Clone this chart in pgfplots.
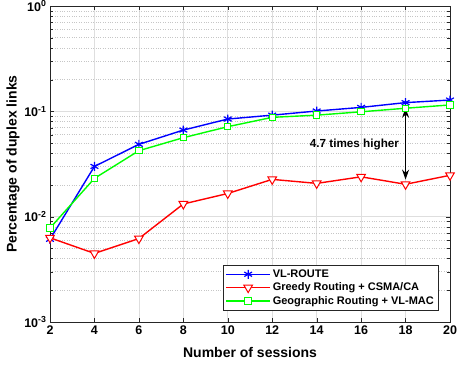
\documentclass[border=0pt]{standalone}
\usepackage{fontspec}
\setmainfont{Liberation Sans}[BoldFont={Liberation Sans Bold}]
\usepackage{pgfplots}
\usetikzlibrary{arrows.meta}
\pgfplotsset{compat=1.18}
\definecolor{axgray}{RGB}{38,38,38}
\definecolor{gridgray}{RGB}{222,222,222}
\begin{document}
\begin{tikzpicture}
\begin{axis}[
  scale only axis,
  width=400pt, height=316pt,
  ymode=log,
  xmin=2, xmax=20, ymin=1e-3, ymax=1,
  xtick={2,4,...,20},
  ytick={0.001,0.01,0.1,1},
  yticklabels={10\textsuperscript{-3},10\textsuperscript{-2},10\textsuperscript{-1},10\textsuperscript{0}},
  tick align=inside,
  tick pos=both,
  axis line style={axgray, line width=0.6pt},
  tick style={axgray},
  major grid style={gridgray, line width=0.6pt},
  minor grid style={gray!45, dotted, line width=0.5pt},
  xmajorgrids, ymajorgrids, yminorgrids,
  ticklabel style={font=\bfseries\fontsize{12.5}{14}\selectfont, text=black},
  /pgf/number format/assume math mode=true,
  xlabel={\bfseries Number of sessions},
  ylabel={\bfseries Percentage of duplex links},
  label style={font=\bfseries\fontsize{14}{16}\selectfont},
  xlabel style={at={(axis description cs:0.5,-0.095)}, anchor=center},
  ylabel style={at={(axis description cs:-0.0925,0.5)}, anchor=center},
  legend style={at={(0.97,0.038)}, anchor=south east, font=\bfseries\fontsize{11}{13}\selectfont, draw=axgray, row sep=0pt, inner sep=2pt},
  legend cell align=left,
  legend image code/.code={\draw[mark repeat=2,mark phase=2] plot coordinates {(0cm,0cm)(0.77cm,0cm)(1.54cm,0cm)};},
]
\addplot[blue, line width=1.4pt, mark=asterisk, mark size=4.5pt, mark options={line width=1.2pt}] coordinates {
(2,0.0061)(4,0.030)(6,0.0486)(8,0.0664)(10,0.0845)(12,0.092)(14,0.1007)(16,0.109)(18,0.121)(20,0.128)};
\addlegendentry{VL-ROUTE}
\addplot[red, line width=1.4pt, mark=triangle*, mark size=5pt, mark options={rotate=180, line width=1pt, fill=white, draw=red}] coordinates {
(2,0.0063)(4,0.00448)(6,0.0062)(8,0.0132)(10,0.0166)(12,0.0226)(14,0.0207)(16,0.0239)(18,0.0203)(20,0.0247)};
\addlegendentry{Greedy Routing + CSMA/CA}
\addplot[green, line width=1.4pt, mark=square*, mark size=3.2pt, mark options={line width=1pt, fill=white, draw=green}] coordinates {
(2,0.0078)(4,0.0231)(6,0.0423)(8,0.0562)(10,0.0715)(12,0.0877)(14,0.092)(16,0.099)(18,0.107)(20,0.115)};
\addlegendentry{Geographic Routing + VL-MAC}
\draw[black, line width=1.1pt, {Stealth[length=10pt,width=7pt]}-{Stealth[length=10pt,width=7pt]}] (axis cs:18,0.108) -- (axis cs:18,0.0225);
\node[font=\bfseries\fontsize{11.7}{14}\selectfont, anchor=center] at (axis cs:15.7,0.048) {4.7 times higher};
\end{axis}
\pgfresetboundingbox
\path[use as bounding box] ([xshift=-50pt,yshift=-42pt]current axis.south west) rectangle ([xshift=7pt,yshift=6pt]current axis.north east);
\end{tikzpicture}
\end{document}
